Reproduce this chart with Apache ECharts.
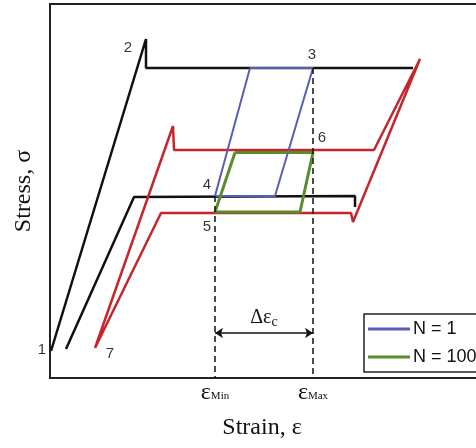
<!DOCTYPE html>
<html>
<head>
<meta charset="utf-8">
<script src="https://cdn.jsdelivr.net/npm/echarts@6/dist/echarts.min.js"></script>
<style>
  html, body { margin: 0; padding: 0; background: #fff; }
  #chart { width: 476px; height: 448px; }
</style>
</head>
<body>
<div id="chart"></div>
<script>
// schematic units: strain along x, stress along y (arbitrary scale)
const blackFirst  = [[1, 27], [96, 339], [96, 310], [363, 310]];
const blackSecond = [[16, 29], [84, 181], [305, 182], [305, 171]];
const redCycle    = [[45, 30], [123, 252], [124, 228], [324, 228], [370, 319], [303, 156], [301, 165], [111, 165], [45, 30]];
const blueLoop    = [[200, 310], [263, 310], [225, 182], [165, 182], [200, 310]];
const greenLoop   = [[185, 225.5], [263, 225.5], [250, 166], [165, 166], [185, 225.5]];

const strainMin = 165;
const strainMax = 263;
const arrowStress = 45;

// numbered points on the curves: [label, point, offset]
const pointNames = ['1', '2', '3', '4', '5', '6', '7'];
const pointCoords = [blackFirst[0], blackFirst[1], blueLoop[1], blueLoop[3], greenLoop[3], greenLoop[1], redCycle[0]];
const pointOffsets = [[-9, 7], [-18, 17], [-1, -5], [-8, -3], [-8, 23], [9, -7], [15, 14]];

const chart = echarts.init(document.getElementById('chart'));

const serif = 'Liberation Serif';
const sans = 'Liberation Sans';

function curve(name, data, color, width) {
  return {
    name: name,
    type: 'line',
    data: data,
    showSymbol: false,
    symbol: 'none',
    lineStyle: { color: color, width: width },
    itemStyle: { color: color },
    z: 3
  };
}

const option = {
  animation: false,
  grid: {
    show: true,
    left: 50,
    top: 4,
    width: 440,
    height: 374,
    outerBoundsMode: 'none',
    containLabel: false,
    borderColor: '#222',
    borderWidth: 2,
    backgroundColor: '#fff'
  },
  legend: {
    left: 364,
    top: 314,
    orient: 'vertical',
    data: ['N = 1', 'N = 100'],
    icon: 'rect',
    itemWidth: 42,
    itemHeight: 3,
    itemGap: 10,
    padding: [6, 14, 6, 4],
    borderColor: '#222',
    borderWidth: 1.5,
    backgroundColor: '#fff',
    textStyle: { fontFamily: sans, fontSize: 18, color: '#111', padding: [0, 0, 0, -2] }
  },
  xAxis: {
    type: 'value',
    min: 0,
    max: 440,
    name: 'Strain, ε',
    nameLocation: 'middle',
    nameGap: 38,
    nameTextStyle: { fontFamily: serif, fontSize: 24, color: '#111', padding: [0, 16, 0, 0] },
    axisLine: { show: false },
    axisTick: { show: false },
    splitLine: { show: false },
    axisLabel: {
      customValues: [strainMin, strainMax],
      margin: 3,
      formatter: function (v) {
        return v === strainMin ? '{e|ε}{s|Min}' : '{e|ε}{s|Max}';
      },
      rich: {
        e: { fontFamily: serif, fontSize: 24, color: '#111' },
        s: { fontFamily: serif, fontSize: 11, color: '#111', padding: [6, 0, 0, 0] }
      }
    }
  },
  yAxis: {
    type: 'value',
    min: 0,
    max: 374,
    name: 'Stress, σ',
    nameLocation: 'middle',
    nameGap: 14,
    nameTextStyle: { fontFamily: serif, fontSize: 24, color: '#111' },
    axisLine: { show: false },
    axisTick: { show: false },
    splitLine: { show: false },
    axisLabel: { show: false }
  },
  series: [
    {
      name: 'guides',
      type: 'line',
      data: [],
      markLine: {
        silent: true,
        symbol: ['none', 'none'],
        label: { show: false },
        lineStyle: { color: '#111', width: 1.5, type: [6, 4] },
        data: [
          [{ coord: [strainMin, blueLoop[3][1]] }, { coord: [strainMin, 0] }],
          [{ coord: [strainMax, blueLoop[1][1]] }, { coord: [strainMax, 0] }],
          [
            {
              coord: [strainMin, arrowStress],
              symbol: 'arrow',
              lineStyle: { type: 'solid', width: 1.5 },
              label: {
                show: true,
                position: 'middle',
                distance: 4,
                formatter: '{d|Δε}{c|c}',
                rich: {
                  d: { fontFamily: serif, fontSize: 20, color: '#111' },
                  c: { fontFamily: serif, fontSize: 14, color: '#111', padding: [8, 0, 0, 0] }
                }
              }
            },
            { coord: [strainMax, arrowStress], symbol: 'arrow' }
          ]
        ],
        symbolSize: 8
      }
    },
    curve('black first', blackFirst, '#111', 2.5),
    curve('black second', blackSecond, '#111', 2.5),
    curve('red', redCycle, '#c4262b', 2.5),
    curve('N = 1', blueLoop, '#5a5db5', 2),
    curve('N = 100', greenLoop, '#5b8b2c', 3),
    {
      name: 'points',
      type: 'scatter',
      symbolSize: 1,
      itemStyle: { color: 'rgba(0,0,0,0)' },
      z: 5,
      data: pointNames.map(function (n, i) {
        return {
          value: pointCoords[i],
          label: {
            show: true,
            formatter: n,
            position: 'top',
            distance: 0,
            offset: pointOffsets[i],
            fontFamily: sans,
            fontSize: 15,
            color: '#000'
          }
        };
      })
    }
  ]
};

chart.setOption(option);
</script>
</body>
</html>
